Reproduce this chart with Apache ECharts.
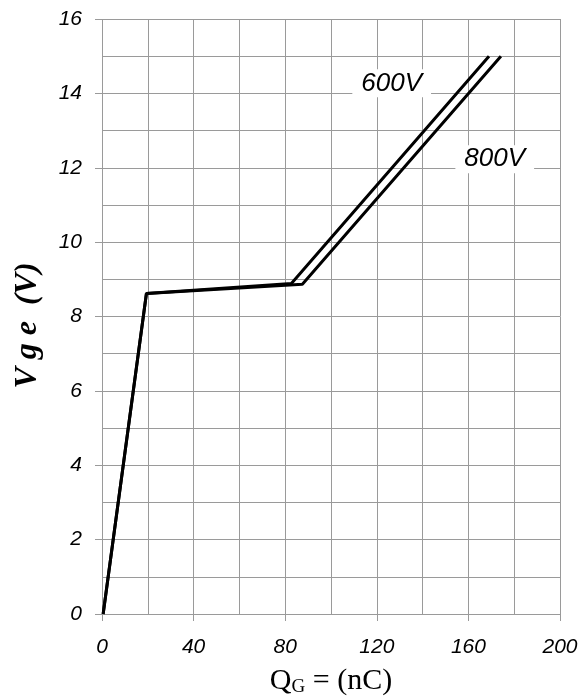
<!DOCTYPE html>
<html>
<head>
<meta charset="utf-8">
<script src="https://cdn.jsdelivr.net/npm/echarts@6/dist/echarts.min.js"></script>
<style>html,body{margin:0;padding:0;background:#fff}#c{width:584px;height:698px}</style>
</head>
<body>
<div id="c"></div>
<script>
// Gate charge curves: Q_G (nC) vs Vge (V)
const qg600 = [0.5, 19.4, 82.7, 169.0];
const vge600 = [0, 8.62, 8.89, 15.0];
const qg800 = [0.5, 19.4, 87.5, 174.2];
const vge800 = [0, 8.62, 8.87, 15.0];
const curveNames = ['600V', '800V'];
const labelQ = [126.5, 171.5];
const labelV = [14.27, 12.23];
const xTicks = [0, 40, 80, 120, 160, 200];
const yTicks = [0, 2, 4, 6, 8, 10, 12, 14, 16];

const chart = echarts.init(document.getElementById('c'), null, {renderer: 'canvas'});
const grid = '#9a9a9a';
const labelFont = {fontFamily: 'Liberation Sans', fontStyle: 'italic', fontSize: 21, color: '#000'};

function mk(qs, vs, i) {
  return {
    name: curveNames[i],
    type: 'line',
    data: qs.map((q, k) => [q, vs[k]]),
    symbol: 'none',
    lineStyle: {color: '#000', width: 3},
    z: 5,
    markPoint: {
      symbol: 'circle',
      symbolSize: 1,
      itemStyle: {color: 'rgba(0,0,0,0)'},
      data: [{coord: [labelQ[i], labelV[i]], value: curveNames[i]}],
      label: {
        show: true,
        position: 'inside',
        formatter: curveNames[i],
        fontFamily: 'Liberation Sans', fontStyle: 'italic', fontSize: 26, color: '#000',
        backgroundColor: '#fff',
        padding: [1, 9, 1, 9]
      }
    }
  };
}

chart.setOption({
  animation: false,
  grid: {left: 102, right: 24, top: 19, bottom: 84, outerBoundsMode: 'none', containLabel: false},
  xAxis: {
    type: 'value', min: xTicks[0], max: xTicks[xTicks.length - 1], interval: 40,
    axisLine: {show: false},
    axisTick: {show: true, length: 7, lineStyle: {color: grid}},
    axisLabel: Object.assign({margin: 23}, labelFont),
    splitLine: {show: true, lineStyle: {color: grid, width: 1}},
    minorTick: {show: false, splitNumber: 2},
    minorSplitLine: {show: true, lineStyle: {color: grid, width: 1}},
    name: '{q|Q}{s|G}{q| = (nC)}',
    nameLocation: 'middle', nameGap: 52,
    nameTextStyle: {
      rich: {
        q: {fontFamily: 'Liberation Serif', fontSize: 30, color: '#000'},
        s: {fontFamily: 'Liberation Serif', fontSize: 19, color: '#000', verticalAlign: 'bottom', padding: [12, 0, 0, 0]}
      }
    }
  },
  yAxis: {
    type: 'value', min: yTicks[0], max: yTicks[yTicks.length - 1], interval: 2,
    axisLine: {show: false},
    axisTick: {show: true, length: 7, lineStyle: {color: grid}},
    axisLabel: Object.assign({margin: 20}, labelFont),
    splitLine: {show: true, lineStyle: {color: grid, width: 1}},
    minorTick: {show: false, splitNumber: 2},
    minorSplitLine: {show: true, lineStyle: {color: grid, width: 1}},
    name: 'V g e  (V)',
    nameLocation: 'middle', nameGap: 58, nameRotate: 90,
    nameTextStyle: {fontFamily: 'Liberation Serif', fontStyle: 'italic', fontWeight: 'bold', fontSize: 32, color: '#000', padding: [0, 18, 0, 0]}
  },
  series: [mk(qg600, vge600, 0), mk(qg800, vge800, 1)]
});
</script>
</body>
</html>
